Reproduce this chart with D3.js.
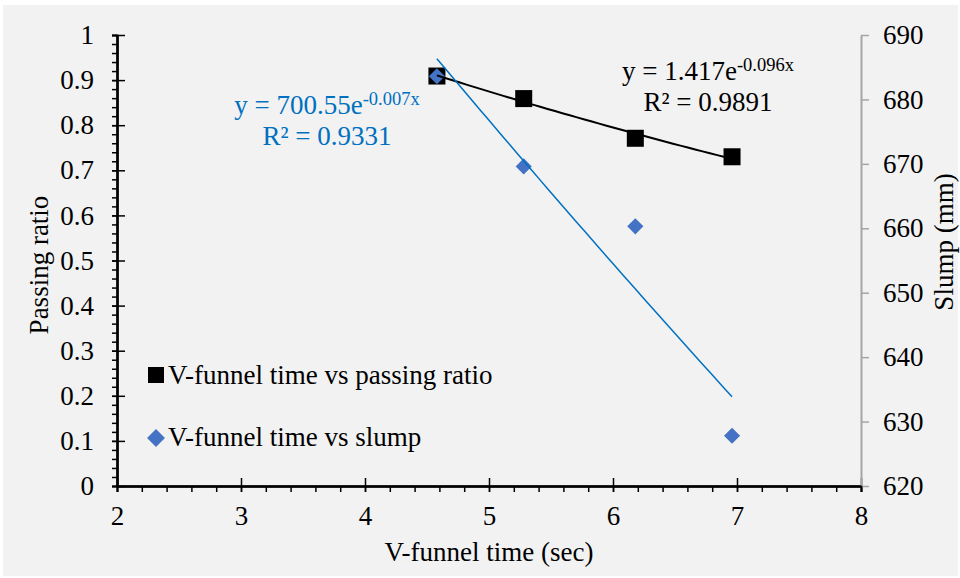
<!DOCTYPE html>
<html>
<head>
<meta charset="utf-8">
<script src="https://cdn.jsdelivr.net/npm/d3@7"></script>
<style>
  body { margin: 0; background: #fff; }
</style>
</head>
<body>
<div id="chart"></div>
<script>
// V-funnel time (sec)
const vFunnelTime = [4.58, 5.28, 6.18, 6.96];
// passing ratio (left axis)
const passingRatio = [0.909, 0.859, 0.771, 0.730];
// slump in mm (right axis)
const slump = [683.6, 669.6, 660.3, 627.8];

const xTicks = [2, 3, 4, 5, 6, 7, 8];
const yLeftTicks = [0, 0.1, 0.2, 0.3, 0.4, 0.5, 0.6, 0.7, 0.8, 0.9, 1];
const yRightTicks = [620, 630, 640, 650, 660, 670, 680, 690];

const eqRatio = { base: "y = 1.417e", exp: "-0.096x", r2: "R² = 0.9891" };
const eqSlump = { base: "y = 700.55e", exp: "-0.007x", r2: "R² = 0.9331" };

const legendLabels = ["V-funnel time vs passing ratio", "V-funnel time vs slump"];

(function () {
    const W = 960, H = 578;
    const plot = { left: 117, right: 861, top: 35, bottom: 486 };
    const fontSize = 27;
    const serif = "'Liberation Serif', 'Times New Roman', Times, serif";
    const blue = "#4472c4", trendBlue = "#0070c0";

    const svg = d3.select("#chart").append("svg")
        .attr("width", W)
        .attr("height", H)
        .style("font-family", serif);

    svg.append("rect")
        .attr("x", 3).attr("y", 5)
        .attr("width", 955).attr("height", 571)
        .attr("fill", "#f2f2f2");

    const x = d3.scaleLinear().domain([2, 8]).range([plot.left, plot.right]);
    const yL = d3.scaleLinear().domain([0, 1]).range([plot.bottom, plot.top]);
    const yR = d3.scaleLinear().domain([620, 690]).range([plot.bottom, plot.top]);

    const styleAxis = (g, color) => {
        g.attr("font-family", null).attr("font-size", null);
        g.selectAll(".domain").attr("stroke", color).attr("stroke-width", 2);
        g.selectAll(".tick line").attr("stroke", color).attr("stroke-width", 1.5);
        g.selectAll("text")
            .attr("fill", "#000")
            .style("font-family", serif)
            .style("font-size", fontSize + "px");
    };

    // minor ticks, drawn first
    const xMinor = d3.range(2, 8.001, 0.2).map(v => +v.toFixed(1));
    svg.append("g")
        .attr("transform", `translate(0,${plot.bottom})`)
        .call(d3.axisBottom(x).tickValues(xMinor).tickSize(6).tickFormat(""))
        .call(g => styleAxis(g, "#000"));

    const yMinor = d3.range(0, 1.0001, 0.02).map(v => +v.toFixed(2));
    svg.append("g")
        .attr("transform", `translate(${plot.left},0)`)
        .call(d3.axisLeft(yL).tickValues(yMinor).tickSize(5).tickFormat(""))
        .call(g => styleAxis(g, "#000"));

    // major ticks crossing the axes
    svg.append("g")
        .attr("transform", `translate(0,${plot.bottom})`)
        .call(d3.axisTop(x).tickValues(xTicks).tickSize(8).tickSizeOuter(0).tickFormat(""))
        .call(g => styleAxis(g, "#000"));

    svg.append("g")
        .attr("transform", `translate(${plot.left},0)`)
        .call(d3.axisRight(yL).tickValues(yLeftTicks).tickSize(8).tickSizeOuter(0).tickFormat(""))
        .call(g => styleAxis(g, "#000"));

    // right axis (gray)
    svg.append("g")
        .attr("transform", `translate(${plot.right},0)`)
        .call(d3.axisRight(yR).tickValues(yRightTicks).tickSize(8).tickSizeOuter(0).tickPadding(14))
        .call(g => styleAxis(g, "#a6a6a6"));

    // bottom axis with labels
    svg.append("g")
        .attr("transform", `translate(0,${plot.bottom})`)
        .call(d3.axisBottom(x).tickValues(xTicks).tickSize(6).tickSizeOuter(0).tickPadding(14).tickFormat(d3.format("d")))
        .call(g => styleAxis(g, "#000"));

    // left axis with labels
    svg.append("g")
        .attr("transform", `translate(${plot.left},0)`)
        .call(d3.axisLeft(yL).tickValues(yLeftTicks).tickSize(5).tickSizeOuter(0).tickPadding(18).tickFormat(d => d === 0 || d === 1 ? d : d3.format(".1f")(d)))
        .call(g => styleAxis(g, "#000"));

    // axis titles
    svg.append("text")
        .attr("x", 489).attr("y", 561)
        .attr("text-anchor", "middle")
        .style("font-size", fontSize + "px")
        .text("V-funnel time (sec)");

    svg.append("text")
        .attr("transform", "translate(48,265) rotate(-90)")
        .attr("text-anchor", "middle")
        .style("font-size", fontSize + "px")
        .text("Passing ratio");

    svg.append("text")
        .attr("transform", "translate(953,242) rotate(-90)")
        .attr("text-anchor", "middle")
        .style("font-size", fontSize + "px")
        .text("Slump (mm)");

    // exponential fit y = a e^(bx), least squares on ln(y)
    const expFit = (xs, ys) => {
        const ly = ys.map(Math.log);
        const mx = d3.mean(xs), my = d3.mean(ly);
        const b = d3.sum(xs, (v, i) => (v - mx) * (ly[i] - my)) / d3.sum(xs, v => (v - mx) ** 2);
        const a = Math.exp(my - b * mx);
        return v => a * Math.exp(b * v);
    };

    const [x0, x1] = d3.extent(vFunnelTime);
    const fitX = d3.range(0, 41).map(i => x0 + (x1 - x0) * i / 40);

    const ratioData = vFunnelTime.map((v, i) => ({ x: v, y: passingRatio[i] }));
    const slumpData = vFunnelTime.map((v, i) => ({ x: v, y: slump[i] }));

    // passing ratio squares
    svg.selectAll(".sq")
        .data(ratioData)
        .join("rect")
        .attr("class", "sq")
        .attr("x", d => x(d.x) - 8.5)
        .attr("y", d => yL(d.y) - 8.5)
        .attr("width", 17).attr("height", 17)
        .attr("fill", "#000");

    // slump diamonds
    const diamond = d3.symbol().type(d3.symbolSquare).size(130);
    svg.selectAll(".dm")
        .data(slumpData)
        .join("path")
        .attr("class", "dm")
        .attr("transform", d => `translate(${x(d.x)},${yR(d.y)}) rotate(45)`)
        .attr("d", diamond)
        .attr("fill", blue);

    // trendlines
    const fR = expFit(vFunnelTime, passingRatio);
    svg.append("path")
        .datum(fitX)
        .attr("fill", "none")
        .attr("stroke", "#000")
        .attr("stroke-width", 2)
        .attr("d", d3.line().x(d => x(d)).y(d => yL(fR(d))));

    const fS = expFit(vFunnelTime, slump);
    svg.append("path")
        .datum(fitX)
        .attr("fill", "none")
        .attr("stroke", trendBlue)
        .attr("stroke-width", 1.5)
        .attr("d", d3.line().x(d => x(d)).y(d => yR(fS(d))));

    // equation labels
    const eqLabel = (eq, cx, by, color) => {
        const t1 = svg.append("text")
            .attr("x", cx).attr("y", by)
            .attr("text-anchor", "middle")
            .attr("fill", color)
            .style("font-size", fontSize + "px");
        t1.append("tspan").text(eq.base);
        t1.append("tspan")
            .attr("dy", -9)
            .style("font-size", "18.5px")
            .text(eq.exp);
        svg.append("text")
            .attr("x", cx).attr("y", by + 31)
            .attr("text-anchor", "middle")
            .attr("fill", color)
            .style("font-size", fontSize + "px")
            .text(eq.r2);
    };
    eqLabel(eqSlump, 327, 114, trendBlue);
    eqLabel(eqRatio, 708, 80, "#000");

    // legend
    const lg = svg.append("g");
    lg.append("rect")
        .attr("x", 148).attr("y", 367)
        .attr("width", 16).attr("height", 16)
        .attr("fill", "#000");
    lg.append("path")
        .attr("transform", "translate(156,438) rotate(45)")
        .attr("d", d3.symbol().type(d3.symbolSquare).size(160))
        .attr("fill", blue);
    lg.selectAll(".lt")
        .data(legendLabels)
        .join("text")
        .attr("class", "lt")
        .attr("x", 168)
        .attr("y", (d, i) => i === 0 ? 384 : 446)
        .style("font-size", fontSize + "px")
        .text(d => d);
})();
</script>
</body>
</html>
